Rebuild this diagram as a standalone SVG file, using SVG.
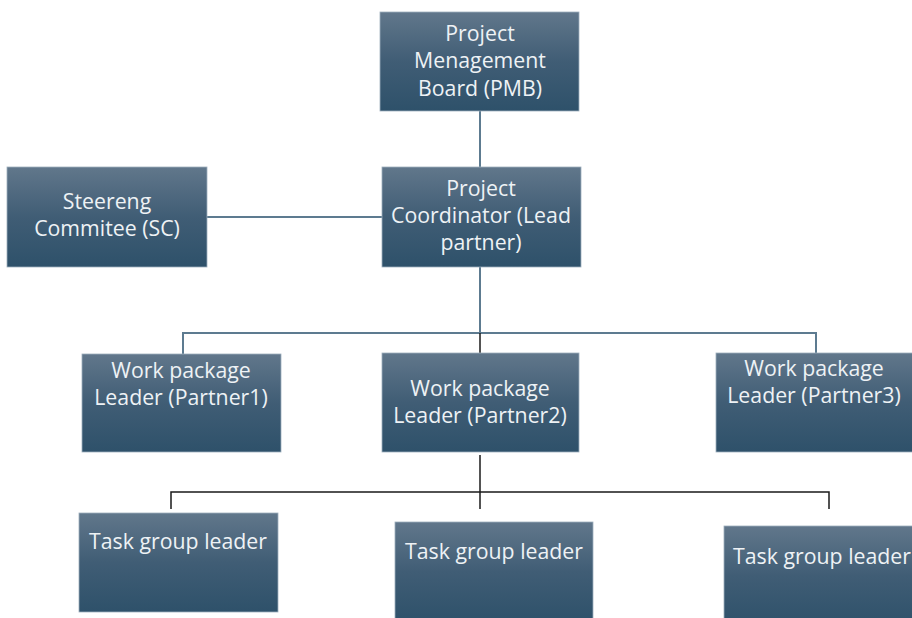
<svg xmlns="http://www.w3.org/2000/svg" width="912" height="618" viewBox="0 0 912 618">
<style>
.box{fill:url(#g);stroke:#9fb0bd;stroke-width:0.8}
.t{font-family:"Open Sans","Liberation Sans",sans-serif;font-size:21.3px;fill:#eef2f5;text-anchor:middle}
.c1{stroke:#5d7b90;stroke-width:2;fill:none}
.c2{stroke:#1a1a1a;stroke-width:1.5;fill:none}
</style>
<defs>
<linearGradient id="g" x1="0" y1="0" x2="0" y2="1">
<stop offset="0" stop-color="#61778b"/>
<stop offset="0.5" stop-color="#405d75"/>
<stop offset="1" stop-color="#2e516a"/>
</linearGradient>
</defs>
<rect width="912" height="618" fill="#fff"/>
<g id="connectors">
<path class="c1" d="M480 111V167"/>
<path class="c1" d="M207 217H382"/>
<path class="c1" d="M480 267V333"/>
<path class="c1" d="M183 354V333H816V353"/>
<path class="c2" d="M480 333V353"/>
<path class="c2" d="M480 455V509"/>
<path class="c2" d="M171 509V492H829V509"/>
</g>
<g id="pmb"><rect class="box" x="380" y="12" width="199" height="99"/>
<text class="t" x="480" y="41">Project</text><text class="t" x="480" y="68">Menagement</text><text class="t" x="480" y="96">Board (PMB)</text></g>
<g id="sc"><rect class="box" x="7" y="167" width="200" height="100"/>
<text class="t" x="107" y="209">Steereng</text><text class="t" x="107" y="236">Commitee (SC)</text></g>
<g id="coordinator"><rect class="box" x="382" y="167" width="199" height="100"/>
<text class="t" x="481" y="196">Project</text><text class="t" x="481" y="223">Coordinator (Lead</text><text class="t" x="481" y="250">partner)</text></g>
<g id="wp1"><rect class="box" x="82" y="354" width="199" height="98"/>
<text class="t" x="181" y="378">Work package</text><text class="t" x="181" y="405">Leader (Partner1)</text></g>
<g id="wp2"><rect class="box" x="382" y="353" width="197" height="99"/>
<text class="t" x="480" y="396">Work package</text><text class="t" x="480" y="423">Leader (Partner2)</text></g>
<g id="wp3"><rect class="box" x="716" y="353" width="200" height="99"/>
<text class="t" x="814" y="376">Work package</text><text class="t" x="814" y="403">Leader (Partner3)</text></g>
<g id="tg1"><rect class="box" x="79" y="513" width="199" height="99"/>
<text class="t" x="178" y="549">Task group leader</text></g>
<g id="tg2"><rect class="box" x="395" y="522" width="198" height="100"/>
<text class="t" x="494" y="559">Task group leader</text></g>
<g id="tg3"><rect class="box" x="724" y="526" width="200" height="100"/>
<text class="t" x="822" y="564">Task group leader</text></g>
</svg>
